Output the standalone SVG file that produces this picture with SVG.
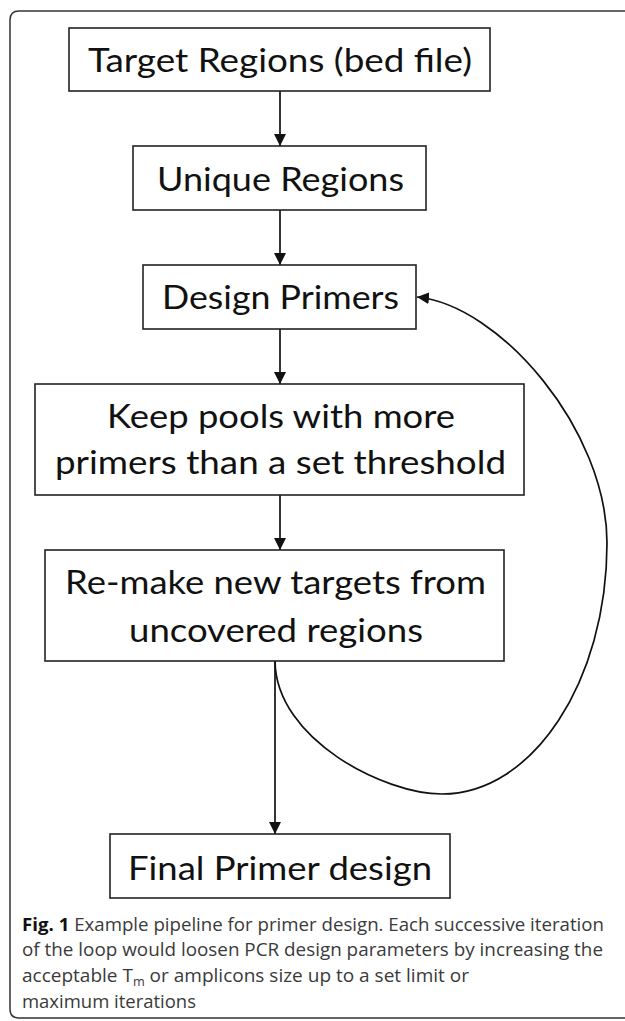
<svg xmlns="http://www.w3.org/2000/svg" width="625" height="1021" viewBox="0 0 625 1021">
  <style>
    .box { fill: #ffffff; stroke: #222222; stroke-width: 1.6; }
    .lbl { font-family: Lato, "Open Sans", sans-serif; font-size: 32px; fill: #111111; text-anchor: middle; }
    .conn { fill: none; stroke: #111111; stroke-width: 1.7; }
    .cap { font-family: "Open Sans", "Noto Sans", sans-serif; font-size: 18px; fill: #3a3a3a; }
    .capb { font-weight: bold; fill: #111111; }
    .frame { fill: none; stroke: #333333; stroke-width: 1.5; }
  </style>
  <defs>
    <marker id="arr" markerUnits="userSpaceOnUse" markerWidth="12" markerHeight="12" refX="12" refY="6" orient="auto" viewBox="0 0 12 12">
      <path d="M0,0 L12,6 L0,12 z" fill="#111111"/>
    </marker>
  </defs>
  <rect x="0" y="0" width="625" height="1021" fill="#ffffff"/>
  <path class="frame" d="M 626 11 L 19 11 Q 10 11 10 20 L 10 1009 Q 10 1018 19 1018 L 626 1018"/>

  <g id="connectors">
    <path class="conn" d="M280 91 L280 146" marker-end="url(#arr)"/>
    <path class="conn" d="M280 210 L280 265" marker-end="url(#arr)"/>
    <path class="conn" d="M280 329 L280 384" marker-end="url(#arr)"/>
    <path class="conn" d="M280 495 L280 550" marker-end="url(#arr)"/>
    <path class="conn" d="M275 661 L275 834" marker-end="url(#arr)"/>
    <path class="conn" d="M275 661 C 276 740, 385 794, 442 794 C 533 794, 607 681, 607 543 C 607 430, 500 305, 417 297" marker-end="url(#arr)"/>
  </g>

  <g id="target-regions">
    <rect class="box" x="69" y="28" width="421" height="63"/>
    <text class="lbl" x="280" y="72" textLength="384" lengthAdjust="spacingAndGlyphs">Target Regions (bed file)</text>
  </g>
  <g id="unique-regions">
    <rect class="box" x="133" y="146" width="293" height="64"/>
    <text class="lbl" x="280.5" y="191" textLength="247" lengthAdjust="spacingAndGlyphs">Unique Regions</text>
  </g>
  <g id="design-primers">
    <rect class="box" x="143" y="265" width="273" height="64"/>
    <text class="lbl" x="280.5" y="309" textLength="237" lengthAdjust="spacingAndGlyphs">Design Primers</text>
  </g>
  <g id="keep-pools">
    <rect class="box" x="35" y="384" width="489" height="111"/>
    <text class="lbl" x="281" y="428" textLength="348" lengthAdjust="spacingAndGlyphs">Keep pools with more</text>
    <text class="lbl" x="280.5" y="474" textLength="451" lengthAdjust="spacingAndGlyphs">primers than a set threshold</text>
  </g>
  <g id="remake-targets">
    <rect class="box" x="45" y="550" width="459" height="111"/>
    <text class="lbl" x="275.5" y="594" textLength="421" lengthAdjust="spacingAndGlyphs">Re-make new targets from</text>
    <text class="lbl" x="276" y="642" textLength="294" lengthAdjust="spacingAndGlyphs">uncovered regions</text>
  </g>
  <g id="final-design">
    <rect class="box" x="110" y="834" width="340" height="64"/>
    <text class="lbl" x="280" y="880" textLength="304" lengthAdjust="spacingAndGlyphs">Final Primer design</text>
  </g>

  <g id="caption">
    <text class="cap" x="22" y="931" textLength="582" lengthAdjust="spacingAndGlyphs"><tspan class="capb">Fig. 1</tspan> Example pipeline for primer design. Each successive iteration</text>
    <text class="cap" x="22" y="956" textLength="581" lengthAdjust="spacingAndGlyphs">of the loop would loosen PCR design parameters by increasing the</text>
    <text class="cap" x="22" y="982" textLength="447" lengthAdjust="spacingAndGlyphs">acceptable T<tspan font-size="12" dy="4">m</tspan><tspan dy="-4"> or amplicons size up to a set limit or</tspan></text>
    <text class="cap" x="22" y="1008" textLength="174" lengthAdjust="spacingAndGlyphs">maximum iterations</text>
  </g>
</svg>
